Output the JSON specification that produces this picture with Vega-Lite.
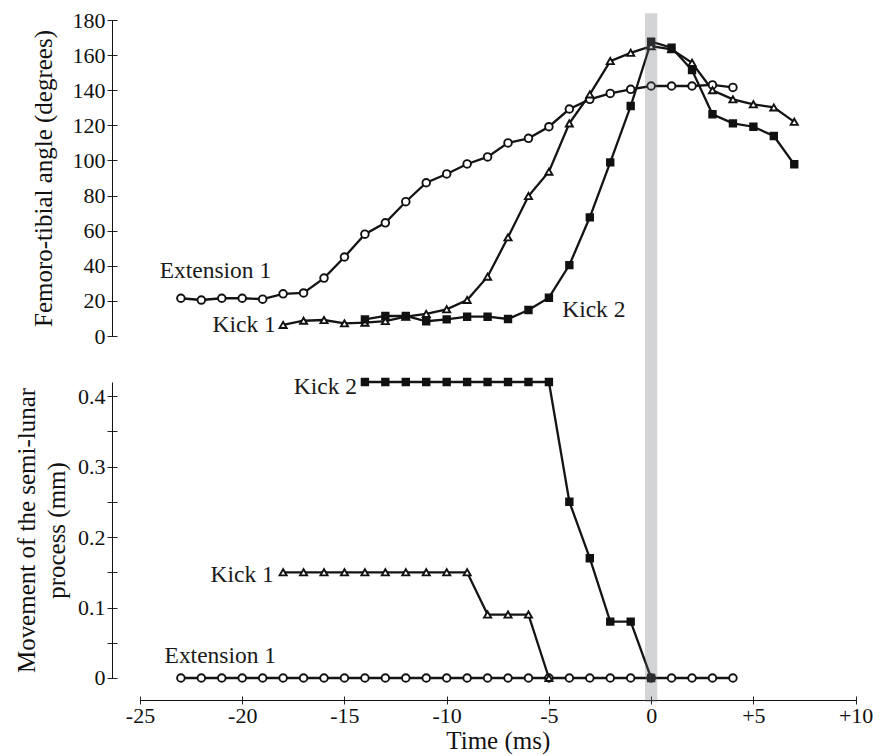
{
  "$schema": "https://vega.github.io/schema/vega-lite/v6.json",
  "autosize": {"type": "none"},
  "padding": {"left": 140, "top": 20, "right": 749, "bottom": 736},
  "background": "white",
  "config": {
    "view": {"stroke": null},
    "font": "Liberation Serif",
    "axis": {"labelFont": "Liberation Serif", "titleFont": "Liberation Serif", "titleFontWeight": "normal", "grid": false, "labelColor": "#111", "titleColor": "#111", "tickColor": "#222", "domainColor": "#333"}
  },
  "datasets": {
    "top": [
      {"series": "Extension 1", "t": -23, "angle": 21.5},
      {"series": "Extension 1", "t": -22, "angle": 20.5},
      {"series": "Extension 1", "t": -21, "angle": 21.5},
      {"series": "Extension 1", "t": -20, "angle": 21.5},
      {"series": "Extension 1", "t": -19, "angle": 21},
      {"series": "Extension 1", "t": -18, "angle": 24},
      {"series": "Extension 1", "t": -17, "angle": 24.5},
      {"series": "Extension 1", "t": -16, "angle": 33},
      {"series": "Extension 1", "t": -15, "angle": 45},
      {"series": "Extension 1", "t": -14, "angle": 58},
      {"series": "Extension 1", "t": -13, "angle": 64.5},
      {"series": "Extension 1", "t": -12, "angle": 76.5},
      {"series": "Extension 1", "t": -11, "angle": 87.3},
      {"series": "Extension 1", "t": -10, "angle": 92.3},
      {"series": "Extension 1", "t": -9, "angle": 98},
      {"series": "Extension 1", "t": -8, "angle": 102},
      {"series": "Extension 1", "t": -7, "angle": 110},
      {"series": "Extension 1", "t": -6, "angle": 112.6},
      {"series": "Extension 1", "t": -5, "angle": 119.2},
      {"series": "Extension 1", "t": -4, "angle": 129.3},
      {"series": "Extension 1", "t": -3, "angle": 134.8},
      {"series": "Extension 1", "t": -2, "angle": 138.2},
      {"series": "Extension 1", "t": -1, "angle": 140.5},
      {"series": "Extension 1", "t": 0, "angle": 142.4},
      {"series": "Extension 1", "t": 1, "angle": 142.4},
      {"series": "Extension 1", "t": 2, "angle": 142.4},
      {"series": "Extension 1", "t": 3, "angle": 143},
      {"series": "Extension 1", "t": 4, "angle": 141.6},
      {"series": "Kick 1", "t": -18, "angle": 6.3},
      {"series": "Kick 1", "t": -17, "angle": 8.7},
      {"series": "Kick 1", "t": -16, "angle": 9.1},
      {"series": "Kick 1", "t": -15, "angle": 7.2},
      {"series": "Kick 1", "t": -14, "angle": 7.6},
      {"series": "Kick 1", "t": -13, "angle": 8.5},
      {"series": "Kick 1", "t": -12, "angle": 11},
      {"series": "Kick 1", "t": -11, "angle": 12.6},
      {"series": "Kick 1", "t": -10, "angle": 15.2},
      {"series": "Kick 1", "t": -9, "angle": 20.5},
      {"series": "Kick 1", "t": -8, "angle": 33.8},
      {"series": "Kick 1", "t": -7, "angle": 56.2},
      {"series": "Kick 1", "t": -6, "angle": 79.7},
      {"series": "Kick 1", "t": -5, "angle": 93.6},
      {"series": "Kick 1", "t": -4, "angle": 121.1},
      {"series": "Kick 1", "t": -3, "angle": 137.6},
      {"series": "Kick 1", "t": -2, "angle": 156.6},
      {"series": "Kick 1", "t": -1, "angle": 161.3},
      {"series": "Kick 1", "t": 0, "angle": 165.1},
      {"series": "Kick 1", "t": 1, "angle": 163.3},
      {"series": "Kick 1", "t": 2, "angle": 155.6},
      {"series": "Kick 1", "t": 3, "angle": 140},
      {"series": "Kick 1", "t": 4, "angle": 134.8},
      {"series": "Kick 1", "t": 5, "angle": 132},
      {"series": "Kick 1", "t": 6, "angle": 130.2},
      {"series": "Kick 1", "t": 7, "angle": 122},
      {"series": "Kick 2", "t": -14, "angle": 9.5},
      {"series": "Kick 2", "t": -13, "angle": 11.4},
      {"series": "Kick 2", "t": -12, "angle": 11.4},
      {"series": "Kick 2", "t": -11, "angle": 8.4},
      {"series": "Kick 2", "t": -10, "angle": 9.5},
      {"series": "Kick 2", "t": -9, "angle": 11},
      {"series": "Kick 2", "t": -8, "angle": 11},
      {"series": "Kick 2", "t": -7, "angle": 9.7},
      {"series": "Kick 2", "t": -6, "angle": 14.8},
      {"series": "Kick 2", "t": -5, "angle": 21.8},
      {"series": "Kick 2", "t": -4, "angle": 40.4},
      {"series": "Kick 2", "t": -3, "angle": 67.6},
      {"series": "Kick 2", "t": -2, "angle": 98.9},
      {"series": "Kick 2", "t": -1, "angle": 131},
      {"series": "Kick 2", "t": 0, "angle": 167.6},
      {"series": "Kick 2", "t": 1, "angle": 164.2},
      {"series": "Kick 2", "t": 2, "angle": 151.5},
      {"series": "Kick 2", "t": 3, "angle": 126.3},
      {"series": "Kick 2", "t": 4, "angle": 121.1},
      {"series": "Kick 2", "t": 5, "angle": 119.2},
      {"series": "Kick 2", "t": 6, "angle": 113.9},
      {"series": "Kick 2", "t": 7, "angle": 97.8}
    ],
    "bottom": [
      {"series": "Extension 1", "t": -23, "move": 0},
      {"series": "Extension 1", "t": -22, "move": 0},
      {"series": "Extension 1", "t": -21, "move": 0},
      {"series": "Extension 1", "t": -20, "move": 0},
      {"series": "Extension 1", "t": -19, "move": 0},
      {"series": "Extension 1", "t": -18, "move": 0},
      {"series": "Extension 1", "t": -17, "move": 0},
      {"series": "Extension 1", "t": -16, "move": 0},
      {"series": "Extension 1", "t": -15, "move": 0},
      {"series": "Extension 1", "t": -14, "move": 0},
      {"series": "Extension 1", "t": -13, "move": 0},
      {"series": "Extension 1", "t": -12, "move": 0},
      {"series": "Extension 1", "t": -11, "move": 0},
      {"series": "Extension 1", "t": -10, "move": 0},
      {"series": "Extension 1", "t": -9, "move": 0},
      {"series": "Extension 1", "t": -8, "move": 0},
      {"series": "Extension 1", "t": -7, "move": 0},
      {"series": "Extension 1", "t": -6, "move": 0},
      {"series": "Extension 1", "t": -5, "move": 0},
      {"series": "Extension 1", "t": -4, "move": 0},
      {"series": "Extension 1", "t": -3, "move": 0},
      {"series": "Extension 1", "t": -2, "move": 0},
      {"series": "Extension 1", "t": -1, "move": 0},
      {"series": "Extension 1", "t": 0, "move": 0},
      {"series": "Extension 1", "t": 1, "move": 0},
      {"series": "Extension 1", "t": 2, "move": 0},
      {"series": "Extension 1", "t": 3, "move": 0},
      {"series": "Extension 1", "t": 4, "move": 0},
      {"series": "Kick 1", "t": -18, "move": 0.15},
      {"series": "Kick 1", "t": -17, "move": 0.15},
      {"series": "Kick 1", "t": -16, "move": 0.15},
      {"series": "Kick 1", "t": -15, "move": 0.15},
      {"series": "Kick 1", "t": -14, "move": 0.15},
      {"series": "Kick 1", "t": -13, "move": 0.15},
      {"series": "Kick 1", "t": -12, "move": 0.15},
      {"series": "Kick 1", "t": -11, "move": 0.15},
      {"series": "Kick 1", "t": -10, "move": 0.15},
      {"series": "Kick 1", "t": -9, "move": 0.15},
      {"series": "Kick 1", "t": -8, "move": 0.09},
      {"series": "Kick 1", "t": -7, "move": 0.09},
      {"series": "Kick 1", "t": -6, "move": 0.09},
      {"series": "Kick 1", "t": -5, "move": 0},
      {"series": "Kick 2", "t": -14, "move": 0.42},
      {"series": "Kick 2", "t": -13, "move": 0.42},
      {"series": "Kick 2", "t": -12, "move": 0.42},
      {"series": "Kick 2", "t": -11, "move": 0.42},
      {"series": "Kick 2", "t": -10, "move": 0.42},
      {"series": "Kick 2", "t": -9, "move": 0.42},
      {"series": "Kick 2", "t": -8, "move": 0.42},
      {"series": "Kick 2", "t": -7, "move": 0.42},
      {"series": "Kick 2", "t": -6, "move": 0.42},
      {"series": "Kick 2", "t": -5, "move": 0.42},
      {"series": "Kick 2", "t": -4, "move": 0.25},
      {"series": "Kick 2", "t": -3, "move": 0.17},
      {"series": "Kick 2", "t": -2, "move": 0.08},
      {"series": "Kick 2", "t": -1, "move": 0.08},
      {"series": "Kick 2", "t": 0, "move": 0}
    ],
    "labelsTop": [
      {"label": "Extension 1", "t": -24.04, "v": 33},
      {"label": "Kick 1", "t": -21.45, "v": 2.3},
      {"label": "Kick 2", "t": -4.35, "v": 11}
    ],
    "labelsBottom": [
      {"label": "Kick 2", "t": -17.48, "v": 0.403},
      {"label": "Kick 1", "t": -21.55, "v": 0.136},
      {"label": "Extension 1", "t": -23.8, "v": 0.021}
    ],
    "band": [{"start": -0.3, "end": 0.3}]
  },
  "vconcat": [
    {
      "width": 715.6,
      "height": 316,
      "resolve": {"axis": {"y": "independent"}},
      "layer": [
        {
          "data": {"name": "top"},
          "mark": {"type": "line", "color": "#141414", "strokeWidth": 2.3},
          "encoding": {
            "x": {"field": "t", "type": "quantitative", "scale": {"domain": [-25, 10], "nice": false, "zero": false}, "axis": null},
            "y": {"field": "angle", "type": "quantitative", "scale": {"domain": [0, 180], "nice": false},
              "axis": {"orient": "left", "offset": 23, "tickSize": 10, "domain": false, "values": [0, 20, 40, 60, 80, 100, 120, 140, 160, 180], "labelFontSize": 22, "labelPadding": 2, "title": "Femoro-tibial angle (degrees)", "titleFontSize": 25, "titlePadding": 15}},
            "detail": {"field": "series"}
          }
        },
        {
          "data": {"name": "top"},
          "mark": {"type": "point", "filled": true, "stroke": "#111", "strokeWidth": 1.9, "opacity": 1},
          "encoding": {
            "x": {"field": "t", "type": "quantitative", "axis": null},
            "y": {"field": "angle", "type": "quantitative",
              "axis": {"orient": "left", "offset": 28, "domain": true, "ticks": false, "labels": false, "title": null, "domainColor": "#111"}},
            "shape": {"field": "series", "type": "nominal", "scale": {"domain": ["Extension 1", "Kick 1", "Kick 2"], "range": ["circle", "triangle-up", "square"]}, "legend": null},
            "fill": {"field": "series", "type": "nominal", "scale": {"domain": ["Extension 1", "Kick 1", "Kick 2"], "range": ["#ffffff", "#ffffff", "#111111"]}, "legend": null},
            "size": {"field": "series", "type": "nominal", "scale": {"domain": ["Extension 1", "Kick 1", "Kick 2"], "range": [58, 42, 46]}, "legend": null}
          }
        },
        {
          "data": {"name": "band"},
          "mark": {"type": "rect", "color": "#6e7278", "opacity": 0.3},
          "encoding": {
            "x": {"field": "start", "type": "quantitative", "axis": null},
            "x2": {"field": "end"},
            "y": {"datum": 183.8, "type": "quantitative", "axis": null},
            "y2": {"datum": -26.2}
          }
        },
        {
          "data": {"name": "labelsTop"},
          "mark": {"type": "text", "align": "left", "baseline": "alphabetic", "fontSize": 23.5, "font": "Liberation Serif", "color": "#1a1a1a"},
          "encoding": {
            "x": {"field": "t", "type": "quantitative", "axis": null},
            "y": {"field": "v", "type": "quantitative", "axis": null},
            "text": {"field": "label"}
          }
        }
      ]
    },
    {
      "width": 715.6,
      "height": 296,
      "resolve": {"axis": {"x": "independent", "y": "independent"}},
      "layer": [
        {
          "data": {"name": "bottom"},
          "mark": {"type": "line", "color": "#141414", "strokeWidth": 2.3},
          "encoding": {
            "x": {"field": "t", "type": "quantitative", "scale": {"domain": [-25, 10], "nice": false, "zero": false},
              "axis": {"orient": "bottom", "offset": 18, "tickSize": 8, "domain": false, "values": [-25, -20, -15, -10, -5, 0, 5, 10], "labelExpr": "datum.value > 0 ? '+' + datum.value : '' + datum.value", "labelFontSize": 22, "labelPadding": 2, "labelFlush": false, "title": "Time (ms)", "titleFontSize": 25, "titlePadding": 2}},
            "y": {"field": "move", "type": "quantitative", "scale": {"domain": [0, 0.42], "nice": false},
              "axis": {"orient": "left", "offset": 23, "tickSize": 10, "domain": false, "values": [0, 0.05, 0.1, 0.15, 0.2, 0.25, 0.3, 0.35, 0.4], "labelExpr": "abs(datum.value*10 - round(datum.value*10)) < 0.01 ? (datum.value == 0 ? '0' : format(datum.value, '.1f')) : ''", "labelFontSize": 22, "labelPadding": 2, "title": ["Movement of the semi-lunar", "process (mm)"], "titleFontSize": 25, "titleLineHeight": 30, "titlePadding": 8}},
            "detail": {"field": "series"}
          }
        },
        {
          "data": {"name": "bottom"},
          "mark": {"type": "point", "filled": true, "stroke": "#111", "strokeWidth": 1.9, "opacity": 1},
          "encoding": {
            "x": {"field": "t", "type": "quantitative",
              "axis": {"orient": "bottom", "offset": 22, "domain": true, "ticks": false, "labels": false, "title": null, "domainColor": "#111"}},
            "y": {"field": "move", "type": "quantitative",
              "axis": {"orient": "left", "offset": 28, "domain": true, "ticks": false, "labels": false, "title": null, "domainColor": "#111"}},
            "shape": {"field": "series", "type": "nominal", "scale": {"domain": ["Extension 1", "Kick 1", "Kick 2"], "range": ["circle", "triangle-up", "square"]}, "legend": null},
            "fill": {"field": "series", "type": "nominal", "scale": {"domain": ["Extension 1", "Kick 1", "Kick 2"], "range": ["#ffffff", "#ffffff", "#111111"]}, "legend": null},
            "size": {"field": "series", "type": "nominal", "scale": {"domain": ["Extension 1", "Kick 1", "Kick 2"], "range": [58, 42, 40]}, "legend": null}
          }
        },
        {
          "data": {"name": "band"},
          "mark": {"type": "rect", "color": "#6e7278", "opacity": 0.3},
          "encoding": {
            "x": {"field": "start", "type": "quantitative", "axis": null},
            "x2": {"field": "end"},
            "y": {"datum": 0.42, "type": "quantitative", "axis": null},
            "y2": {"datum": -0.034}
          }
        },
        {
          "data": {"name": "labelsBottom"},
          "mark": {"type": "text", "align": "left", "baseline": "alphabetic", "fontSize": 23.5, "font": "Liberation Serif", "color": "#1a1a1a"},
          "encoding": {
            "x": {"field": "t", "type": "quantitative", "axis": null},
            "y": {"field": "v", "type": "quantitative", "axis": null},
            "text": {"field": "label"}
          }
        }
      ]
    }
  ],
  "spacing": 46,
  "bounds": "flush"
}
